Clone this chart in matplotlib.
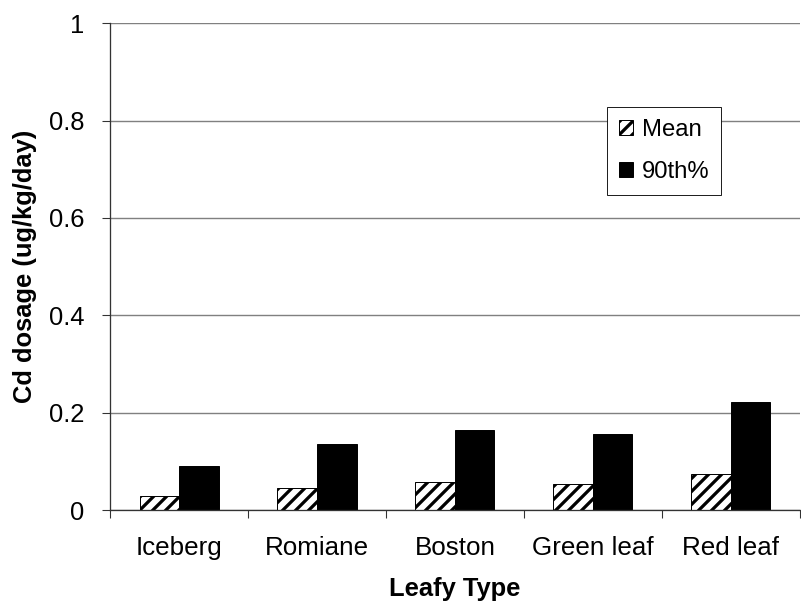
import matplotlib
matplotlib.use("Agg")
import matplotlib.pyplot as plt
import numpy as np

categories = ["Iceberg", "Romiane", "Boston", "Green leaf", "Red leaf"]
mean_vals = [0.028, 0.045, 0.057, 0.053, 0.073]
p90_vals = [0.090, 0.136, 0.164, 0.156, 0.222]
series_names = ["Mean", "90th%"]
yticks = [0, 0.2, 0.4, 0.6, 0.8, 1.0]
ytick_labels = ["0", "0.2", "0.4", "0.6", "0.8", "1"]

DPI = 78
plt.rcParams['font.family'] = ['Liberation Sans', 'DejaVu Sans']
plt.rcParams['hatch.linewidth'] = 3.0
plt.rcParams['hatch.color'] = 'black'

fig = plt.figure(figsize=(801 / DPI, 613 / DPI), dpi=DPI)
W, H = 801, 613
left, right, top, bottom = 110.3, 799.5, 23.3, 510.0
ax = fig.add_axes([left / W, 1 - bottom / H, (right - left) / W, (bottom - top) / H])

x = np.arange(len(categories))
bw = 0.287
ax.bar(x - bw / 2, mean_vals, bw, facecolor='white', edgecolor='black',
       hatch='//', linewidth=0.9, label=series_names[0], zorder=3)
ax.bar(x + bw / 2, p90_vals, bw, facecolor='black', edgecolor='black',
       linewidth=0.9, label=series_names[1], zorder=3)

ax.set_xlim(-0.5, len(categories) - 0.5)
ax.set_ylim(0, 1)
ax.set_yticks(yticks)
ax.set_yticklabels(ytick_labels)
ax.set_xticks(np.arange(len(categories) + 1) - 0.5, minor=False)
ax.set_xticklabels([])
ax.set_xticks(x, minor=True)
ax.set_xticklabels(categories, minor=True)
ax.tick_params(axis='x', which='minor', length=0, pad=24, labelsize=24)
ax.tick_params(axis='x', which='major', direction='out', length=7.4, width=1.0, color='#333333')
ax.tick_params(axis='y', direction='out', length=7.4, width=1.0, color='#333333', pad=16.5, labelsize=23.5)

ax.yaxis.grid(True, color='#808080', linewidth=1.3, zorder=0)
ax.set_axisbelow(True)
for s in ['top', 'right']:
    ax.spines[s].set_visible(False)
for s in ['left', 'bottom']:
    ax.spines[s].set_color('#333333')
    ax.spines[s].set_linewidth(1.2)
    ax.spines[s].set_zorder(4)

ax.set_xlabel("Leafy Type", fontsize=23.5, fontweight='bold', labelpad=16)
ax.set_ylabel("Cd dosage (ug/kg/day)", fontsize=23.5, fontweight='bold', labelpad=11)

leg = ax.legend(loc='upper left', bbox_to_anchor=((607 - left) / (right - left), (bottom - 107) / (bottom - top)),
                borderaxespad=0, fontsize=22, frameon=True, fancybox=False, shadow=False,
                framealpha=1, edgecolor='black', handlelength=0.6, handleheight=0.6,
                handletextpad=0.35, labelspacing=0.85, borderpad=0.5)
leg.get_frame().set_linewidth(0.8)

fig.savefig("out.png", dpi=DPI)
